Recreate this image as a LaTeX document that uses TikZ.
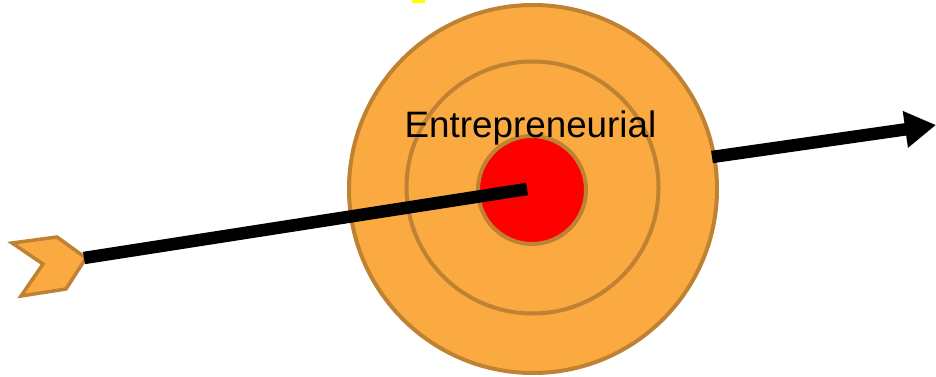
\documentclass[tikz,border=0pt]{standalone}
\usepackage{fontspec}
\setmainfont{Liberation Sans}
\usetikzlibrary{arrows.meta}
\definecolor{ringfill}{RGB}{251,170,66}
\definecolor{ringdraw}{RGB}{190,130,50}
\definecolor{bull}{RGB}{255,0,0}
\definecolor{ymark}{RGB}{255,255,0}
\tikzset{
  ring/.style={circle, draw=ringdraw, line width=4pt, inner sep=0pt, fill=ringfill},
  shaft/.style={line width=12.5pt, black},
}
\begin{document}
\begin{tikzpicture}[x=1pt,y=-1pt]
\useasboundingbox (0,0) rectangle (936,377);
\fill[ymark] (412,0) rectangle (425,3);
\node[ring, minimum size=368pt] (outer) at (533,189) {};
\node[ring, minimum size=252pt] (middle) at (532.5,187.5) {};
\node[ring, fill=bull, minimum size=108pt] (bullseye) at (532,190) {};
% fletching
\draw[draw=ringdraw, fill=ringfill, line width=3.5pt, line join=miter]
  (12,243) -- (57,237) -- (86,258) -- (66,289) -- (21,296) -- (43,264) -- cycle;
\coordinate (tail) at (84,258);
\coordinate (hit) at (527,189);
\draw[shaft] (tail) -- (hit);
\node[font=\fontsize{36.8}{40}\selectfont, anchor=base, inner sep=0pt] (label) at (530.5,137) {Entrepreneurial};
\coordinate (out0) at (712,157);
\coordinate (out1) at (936,125);
\draw[shaft, -{Triangle[length=31pt,width=35pt]}] (out0) -- (out1);
\end{tikzpicture}
\end{document}
